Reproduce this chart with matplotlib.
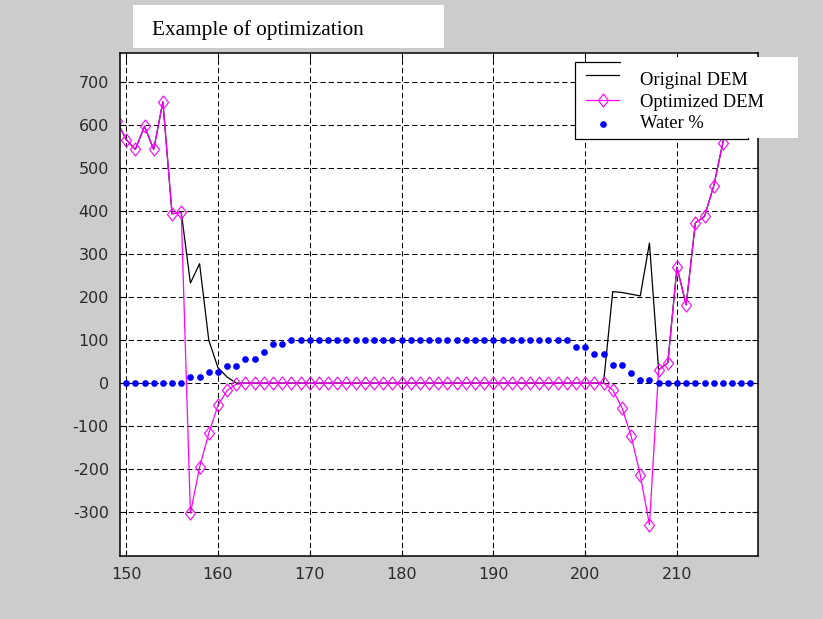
import matplotlib
matplotlib.use("Agg")
import matplotlib.pyplot as plt
from matplotlib.path import Path
from matplotlib.patches import Rectangle

plt.rcParams["axes.unicode_minus"] = False

# ---- values ----
dem_x = list(range(149, 219))
optimized_dem = [
    610, 567, 544, 598, 544, 655, 394, 398, -303, -196, -117, -52, -17, -3,
    0, 0, 0, 0, 0, 0, 0, 0, 0, 0, 0, 0, 0, 0, 0, 0, 0, 0, 0, 0,
    0, 0, 0, 0, 0, 0, 0, 0, 0, 0, 0, 0, 0, 0, 0, 0, 0, 0, 0, 0,
    -16, -57, -123, -214, -330, 31, 47, 270, 182, 373, 388, 459, 560, 640, 700, 740,
]
original_dem = [
    610, 567, 544, 598, 544, 655, 394, 398, 233, 278, 100, 36, 14, 0,
    0, 0, 0, 0, 0, 0, 0, 0, 0, 0, 0, 0, 0, 0, 0, 0, 0, 0, 0, 0,
    0, 0, 0, 0, 0, 0, 0, 0, 0, 0, 0, 0, 0, 0, 0, 0, 0, 0, 0, 0,
    213, 211, 207, 203, 326, 31, 47, 270, 182, 373, 388, 459, 560, 640, 700, 740,
]
water_x = list(range(150, 219))
water_pct = [
    0, 0, 0, 0, 0, 0, 0, 13, 13, 26, 26, 39, 39, 56, 56, 72, 90, 90,
    100, 100, 100, 100, 100, 100, 100, 100, 100, 100, 100, 100, 100, 100, 100, 100,
    100, 100, 100, 100, 100, 100, 100, 100, 100, 100, 100, 100, 100, 100, 100,
    83, 83, 68, 68, 43, 43, 23, 8, 8,
    0, 0, 0, 0, 0, 0, 0, 0, 0, 0, 0,
]
x_ticks = [150, 160, 170, 180, 190, 200, 210]
y_ticks = [-300, -200, -100, 0, 100, 200, 300, 400, 500, 600, 700]
title = "Example of optimization"
labels = ["Original DEM", "Optimized DEM", "Water %"]

W, H = 823, 619
bg = "#cccccc"
magenta = "#ff00ff"
blue = "#0000ff"
serif = ["Liberation Serif", "DejaVu Serif"]

# MATLAB style diamond, a bit taller than wide
diamond = Path([(0, 1), (0.77, 0), (0, -1), (-0.77, 0), (0, 1)],
               [Path.MOVETO, Path.LINETO, Path.LINETO, Path.LINETO, Path.CLOSEPOLY])

fig = plt.figure(figsize=(W / 100, H / 100), dpi=100, facecolor=bg)
ax = fig.add_axes([120 / W, 1 - 555.7 / H, 637.5 / W, 502.4 / H])

ax.plot(dem_x, original_dem, color="k", lw=0.9)
ax.plot(dem_x, optimized_dem, color=magenta, lw=0.9, marker=diamond,
        markersize=9.4, markerfacecolor="none", markeredgecolor=magenta,
        markeredgewidth=0.8)
ax.plot(water_x, water_pct, ls="none", marker="o", markersize=3.8,
        color=blue)

ax.set_xlim(149.33, 218.77)
ax.set_ylim(-402, 768)
ax.set_xticks(x_ticks)
ax.set_yticks(y_ticks)
ax.grid(True, color="k", linestyle=(0, (5, 3)), linewidth=0.75)
ax.tick_params(direction="in", length=4, width=0.8, top=True, right=True,
               labelsize=11.5, labelcolor="#2a2a2a", pad=8)
for lab in ax.get_xticklabels() + ax.get_yticklabels():
    lab.set_family("DejaVu Sans")
for sp in ax.spines.values():
    sp.set_linewidth(1.1)

# overlay in pixel coordinates for the title box and the legend
ov = fig.add_axes([0, 0, 1, 1], zorder=5)
ov.set_xlim(0, W)
ov.set_ylim(H, 0)
ov.axis("off")
ov.patch.set_visible(False)

ov.add_patch(Rectangle((133, 5), 311, 43, facecolor="white", edgecolor="none"))
ov.text(152, 35, title, family=serif, fontsize=15.3, va="baseline")

ov.add_patch(Rectangle((575, 61.7), 173, 77.6, facecolor="white",
                       edgecolor="k", lw=0.9))
ov.add_patch(Rectangle((621, 57.3), 176.7, 81.2, facecolor="white",
                       edgecolor="none"))
ov.plot([586, 619], [75, 75], color="k", lw=0.9)
ov.plot([586, 619], [100, 100], color=magenta, lw=0.9)
ov.plot([603], [100], marker=diamond, markersize=9.4, markerfacecolor="none",
        markeredgecolor=magenta, markeredgewidth=0.8)
ov.plot([603], [124], marker="o", markersize=3.8, color=blue)
for lab, yb in zip(labels, [85, 107.3, 128.3]):
    ov.text(640, yb, lab, family=serif, fontsize=13.3, va="baseline")

fig.savefig("out.png", dpi=100, facecolor=bg)
